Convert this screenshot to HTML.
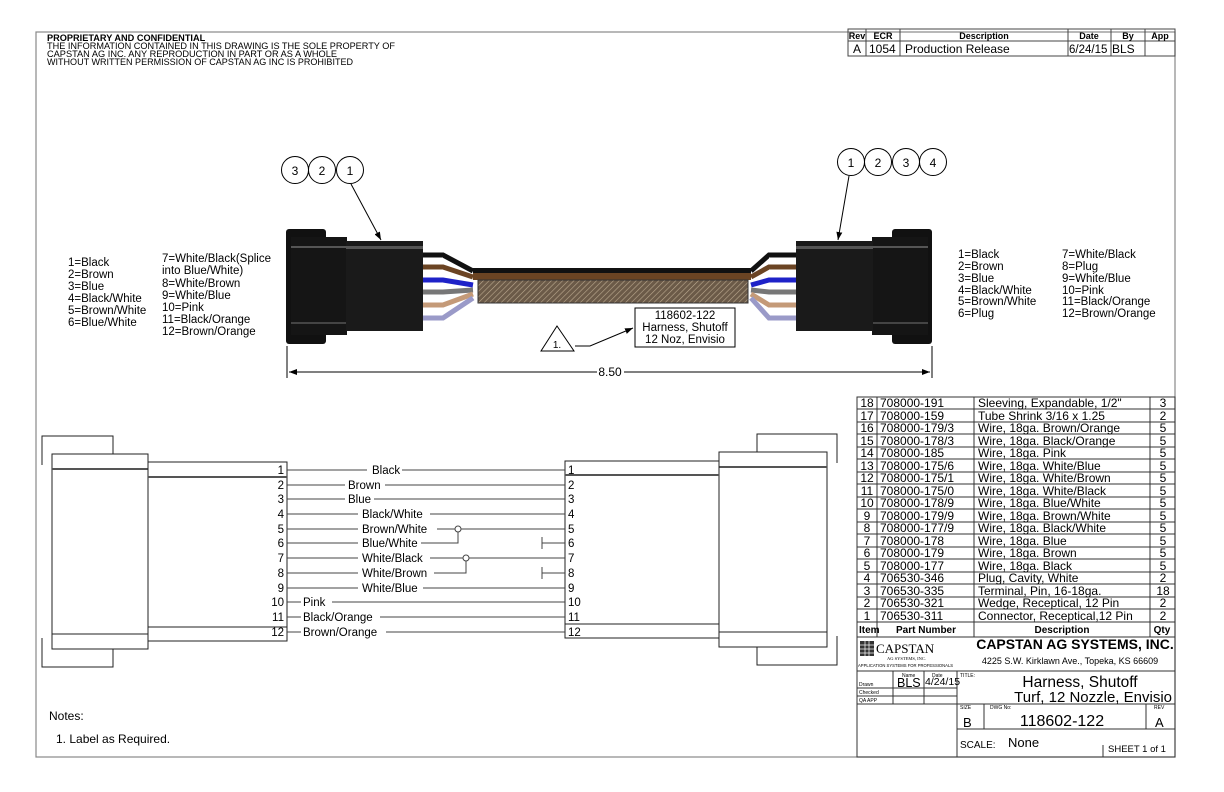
<!DOCTYPE html>
<html><head><meta charset="utf-8"><style>
html,body{margin:0;padding:0;background:#fff;}
svg{display:block;font-family:"Liberation Sans",sans-serif;}
</style></head><body>
<svg width="1224" height="792" viewBox="0 0 1224 792" xmlns="http://www.w3.org/2000/svg">
<defs>
<pattern id="hatch" width="4" height="4" patternUnits="userSpaceOnUse" patternTransform="rotate(45)">
<rect width="4" height="4" fill="#6b5a48"/><line x1="0" y1="0" x2="0" y2="4" stroke="#bba98f" stroke-width="1.2"/>
</pattern>
<marker id="ar" markerWidth="8" markerHeight="6" refX="8" refY="3" orient="auto"><path d="M0,0 L8,3 L0,6 z" fill="#000"/></marker>
</defs>
<rect x="36" y="32" width="1139" height="725" fill="none" stroke="#888" stroke-width="1.2"/>

<g font-size="9.2" fill="#000">
<text x="47" y="41" font-weight="bold">PROPRIETARY AND CONFIDENTIAL</text>
<text x="47" y="49" textLength="348" lengthAdjust="spacingAndGlyphs">THE INFORMATION CONTAINED IN THIS DRAWING IS THE SOLE PROPERTY OF</text>
<text x="47" y="57" textLength="290" lengthAdjust="spacingAndGlyphs">CAPSTAN AG INC. ANY REPRODUCTION IN PART OR AS A WHOLE</text>
<text x="47" y="65" textLength="306" lengthAdjust="spacingAndGlyphs">WITHOUT WRITTEN PERMISSION OF CAPSTAN AG INC IS PROHIBITED</text>
</g>

<g stroke="#444" stroke-width="1" fill="none">
<rect x="848" y="29" width="327" height="27"/>
<line x1="848" y1="41" x2="1175" y2="41"/>
<line x1="866" y1="29" x2="866" y2="56"/><line x1="900" y1="29" x2="900" y2="56"/>
<line x1="1068" y1="29" x2="1068" y2="56"/><line x1="1111" y1="29" x2="1111" y2="56"/>
<line x1="1145" y1="29" x2="1145" y2="56"/>
</g>
<g font-size="9" font-weight="bold" text-anchor="middle">
<text x="857" y="39">Rev</text><text x="883" y="39">ECR</text><text x="984" y="39">Description</text>
<text x="1089" y="39">Date</text><text x="1128" y="39">By</text><text x="1160" y="39">App</text>
</g>
<g font-size="12">
<text x="853" y="53">A</text><text x="869" y="53">1054</text><text x="905" y="53">Production Release</text>
<text x="1069" y="53" font-size="11.5">6/24/15</text><text x="1112" y="53">BLS</text>
</g>

<g font-size="11.5">
<text x="68" y="266">1=Black</text><text x="68" y="278">2=Brown</text><text x="68" y="290">3=Blue</text>
<text x="68" y="302">4=Black/White</text><text x="68" y="314">5=Brown/White</text><text x="68" y="326">6=Blue/White</text>
<text x="162" y="262">7=White/Black(Splice</text><text x="162" y="274">into Blue/White)</text>
<text x="162" y="287">8=White/Brown</text><text x="162" y="299">9=White/Blue</text><text x="162" y="311">10=Pink</text>
<text x="162" y="323">11=Black/Orange</text><text x="162" y="335">12=Brown/Orange</text>
</g>
<g font-size="11.5">
<text x="958" y="258">1=Black</text><text x="958" y="270">2=Brown</text><text x="958" y="282">3=Blue</text>
<text x="958" y="294">4=Black/White</text><text x="958" y="305">5=Brown/White</text><text x="958" y="317">6=Plug</text>
<text x="1062" y="258">7=White/Black</text><text x="1062" y="270">8=Plug</text><text x="1062" y="282">9=White/Blue</text>
<text x="1062" y="294">10=Pink</text><text x="1062" y="305">11=Black/Orange</text><text x="1062" y="317">12=Brown/Orange</text>
</g>

<g>
<rect x="286" y="229" width="40" height="115" rx="3" fill="#111"/>
<rect x="291" y="237" width="56" height="98" fill="#151515"/>
<rect x="291" y="246" width="56" height="2" fill="#555"/>
<rect x="291" y="322" width="56" height="2" fill="#444"/>
<rect x="346" y="241" width="77" height="90" fill="#1a1a1a"/>
<rect x="346" y="246" width="77" height="3" fill="#555"/>
<rect x="892" y="229" width="40" height="115" rx="3" fill="#111"/>
<rect x="872" y="237" width="56" height="98" fill="#151515"/>
<rect x="872" y="246" width="56" height="2" fill="#555"/>
<rect x="872" y="322" width="56" height="2" fill="#444"/>
<rect x="796" y="241" width="77" height="90" fill="#1a1a1a"/>
<rect x="796" y="246" width="77" height="3" fill="#555"/>
<g stroke-width="5" fill="none" stroke-linecap="butt">
<path d="M423,255 H443 L473,271" stroke="#111"/>
<path d="M423,267 H443 L473,277" stroke="#6b4423"/>
<path d="M423,280 H443 L473,285" stroke="#1e22c8"/>
<path d="M423,292 H443 L473,290" stroke="#777"/>
<path d="M423,305 H443 L473,294" stroke="#c49a78"/>
<path d="M423,318 H443 L473,298" stroke="#9a9ac8"/>
<path d="M796,255 H769 L751,271" stroke="#111"/>
<path d="M796,267 H769 L751,277" stroke="#6b4423"/>
<path d="M796,280 H769 L751,285" stroke="#1e22c8"/>
<path d="M796,292 H769 L751,290" stroke="#777"/>
<path d="M796,305 H769 L751,294" stroke="#c49a78"/>
<path d="M796,318 H769 L751,298" stroke="#9a9ac8"/>
</g>
<g stroke="#fff" stroke-width="1">
<line x1="423" y1="258" x2="443" y2="258"/><line x1="423" y1="270" x2="443" y2="270"/><line x1="423" y1="283" x2="443" y2="283"/>
<line x1="423" y1="295" x2="443" y2="295"/><line x1="423" y1="308" x2="443" y2="308"/>
<line x1="769" y1="258" x2="796" y2="258"/><line x1="769" y1="270" x2="796" y2="270"/><line x1="769" y1="283" x2="796" y2="283"/>
<line x1="769" y1="295" x2="796" y2="295"/><line x1="769" y1="308" x2="796" y2="308"/>
</g>
<rect x="473" y="268" width="278" height="5" fill="#111"/>
<rect x="473" y="273" width="278" height="7" fill="#6b4423"/>
<rect x="478" y="280" width="270" height="23" fill="url(#hatch)" stroke="#333"/>
</g>

<g fill="#fff" stroke="#000" stroke-width="1">
<circle cx="295" cy="170" r="13.5"/><circle cx="322" cy="170" r="13.5"/><circle cx="350" cy="170" r="13.5"/>
<circle cx="851" cy="162" r="13.5"/><circle cx="878" cy="162" r="13.5"/><circle cx="906" cy="162" r="13.5"/><circle cx="933" cy="162" r="13.5"/>
</g>
<g font-size="12" text-anchor="middle">
<text x="295" y="175">3</text><text x="322" y="175">2</text><text x="350" y="175">1</text>
<text x="851" y="167">1</text><text x="878" y="167">2</text><text x="906" y="167">3</text><text x="933" y="167">4</text>
</g>
<g stroke="#000" stroke-width="1" fill="none">
<line x1="351" y1="184" x2="381" y2="240" marker-end="url(#ar)"/>
<line x1="849" y1="176" x2="838" y2="240" marker-end="url(#ar)"/>
</g>

<rect x="635" y="308" width="100" height="39" fill="#fff" stroke="#000"/>
<g font-size="11.5" text-anchor="middle">
<text x="685" y="319">118602-122</text><text x="685" y="331">Harness, Shutoff</text><text x="685" y="343">12 Noz, Envisio</text>
</g>
<path d="M557,326 L541,351 L574,351 Z" fill="#fff" stroke="#000"/>
<text x="557" y="348" font-size="10" text-anchor="middle">1.</text>
<path d="M575,346 L590,346 L633,328" fill="none" stroke="#000" marker-end="url(#ar)"/>

<g stroke="#000" stroke-width="1" fill="none">
<line x1="287" y1="346" x2="287" y2="378"/><line x1="932" y1="346" x2="932" y2="378"/>
<line x1="289" y1="372" x2="597" y2="372"/>
<line x1="624" y1="372" x2="930" y2="372"/>
</g>
<path d="M289,372 l8,-3 v6 z M930,372 l-8,-3 v6 z" fill="#000"/>
<text x="610" y="376" font-size="12" text-anchor="middle">8.50</text>

<g stroke="#222" stroke-width="1" fill="none">
<path d="M42,465 V436 H113 V454"/>
<path d="M42,638 V667 H113 V649"/>
<rect x="52" y="454" width="96" height="195" fill="#fff"/>
<line x1="52" y1="469" x2="148" y2="469" stroke="#555" stroke-width="2"/>
<line x1="52" y1="634" x2="148" y2="634"/>
<rect x="148" y="462" width="139" height="179" fill="#fff"/>
<line x1="148" y1="477" x2="287" y2="477" stroke="#555" stroke-width="2"/>
<line x1="148" y1="627" x2="287" y2="627"/>
<path d="M837,463 V434 H757 V452"/>
<path d="M837,636 V665 H757 V647"/>
<rect x="719" y="452" width="108" height="195" fill="#fff"/>
<line x1="719" y1="467" x2="827" y2="467" stroke="#555" stroke-width="2"/>
<line x1="719" y1="632" x2="827" y2="632"/>
<rect x="565" y="461" width="154" height="177" fill="#fff"/>
<line x1="565" y1="475" x2="719" y2="475" stroke="#555" stroke-width="2"/>
<line x1="565" y1="624" x2="719" y2="624"/>
</g>
<g font-size="11.5">
<g text-anchor="end">
<text x="284" y="474">1</text><text x="284" y="489">2</text><text x="284" y="503">3</text><text x="284" y="518">4</text>
<text x="284" y="533">5</text><text x="284" y="547">6</text><text x="284" y="562">7</text><text x="284" y="577">8</text>
<text x="284" y="592">9</text><text x="284" y="606">10</text><text x="284" y="621">11</text><text x="284" y="636">12</text>
</g>
<text x="568" y="474">1</text><text x="568" y="489">2</text><text x="568" y="503">3</text><text x="568" y="518">4</text>
<text x="568" y="533">5</text><text x="568" y="547">6</text><text x="568" y="562">7</text><text x="568" y="577">8</text>
<text x="568" y="592">9</text><text x="568" y="606">10</text><text x="568" y="621">11</text><text x="568" y="636">12</text>
<text x="372" y="474">Black</text>
<text x="348" y="489">Brown</text>
<text x="348" y="503">Blue</text>
<text x="362" y="518">Black/White</text>
<text x="362" y="533">Brown/White</text>
<text x="362" y="547">Blue/White</text>
<text x="362" y="562">White/Black</text>
<text x="362" y="577">White/Brown</text>
<text x="362" y="592">White/Blue</text>
<text x="303" y="606">Pink</text>
<text x="303" y="621">Black/Orange</text>
<text x="303" y="636">Brown/Orange</text>
</g>
<g stroke="#444" stroke-width="1" fill="none">
<path d="M287,470 H367 M402,470 H565"/>
<path d="M287,485 H345 M385,485 H565"/>
<path d="M287,499 H345 M374,499 H565"/>
<path d="M287,514 H358 M430,514 H565"/>
<path d="M287,529 H358 M437,529 H455 M461,529 H565"/>
<path d="M287,543 H358 M421,543 H458 V532"/>
<path d="M287,558 H358 M430,558 H463 M469,558 H565"/>
<path d="M287,573 H358 M434,573 H466 V561"/>
<path d="M287,588 H358 M423,588 H565"/>
<path d="M287,602 H301 M332,602 H565"/>
<path d="M287,617 H301 M380,617 H565"/>
<path d="M287,632 H301 M386,632 H565"/>
<path d="M542,543 H565 M542,537 V549 M542,573 H565 M542,567 V579"/>
<circle cx="458" cy="529" r="3"/><circle cx="466" cy="558" r="3"/>
</g>

<g stroke="#333" stroke-width="1" fill="none">
<rect x="857" y="397" width="318" height="360"/>
<line x1="877" y1="397" x2="877" y2="637"/>
<line x1="974" y1="397" x2="974" y2="637"/>
<line x1="1150" y1="397" x2="1150" y2="637"/>
<line x1="857" y1="622" x2="1175" y2="622"/>
<line x1="857" y1="637" x2="1175" y2="637"/>
<line x1="857" y1="671" x2="1175" y2="671"/>
<line x1="857" y1="688" x2="957" y2="688"/>
<line x1="857" y1="696" x2="957" y2="696"/>
<line x1="857" y1="704" x2="1175" y2="704"/>
<line x1="957" y1="729" x2="1175" y2="729"/>
<line x1="893" y1="671" x2="893" y2="704"/>
<line x1="924" y1="671" x2="924" y2="704"/>
<line x1="957" y1="671" x2="957" y2="757"/>
<line x1="984" y1="704" x2="984" y2="729"/>
<line x1="1146" y1="704" x2="1146" y2="729"/>
<line x1="1103" y1="745" x2="1103" y2="757"/>
</g>
<g stroke="#333" stroke-width="1">
<line x1="857" y1="409" x2="1175" y2="409"/><line x1="857" y1="422" x2="1175" y2="422"/>
<line x1="857" y1="434" x2="1175" y2="434"/><line x1="857" y1="447" x2="1175" y2="447"/>
<line x1="857" y1="459" x2="1175" y2="459"/><line x1="857" y1="472" x2="1175" y2="472"/>
<line x1="857" y1="484" x2="1175" y2="484"/><line x1="857" y1="497" x2="1175" y2="497"/>
<line x1="857" y1="509" x2="1175" y2="509"/><line x1="857" y1="522" x2="1175" y2="522"/>
<line x1="857" y1="534" x2="1175" y2="534"/><line x1="857" y1="547" x2="1175" y2="547"/>
<line x1="857" y1="559" x2="1175" y2="559"/><line x1="857" y1="572" x2="1175" y2="572"/>
<line x1="857" y1="584" x2="1175" y2="584"/><line x1="857" y1="597" x2="1175" y2="597"/>
<line x1="857" y1="609" x2="1175" y2="609"/>
</g>
<g font-size="12">
<g text-anchor="middle">
<text x="867" y="407">18</text><text x="867" y="420">17</text><text x="867" y="432">16</text><text x="867" y="445">15</text>
<text x="867" y="457">14</text><text x="867" y="470">13</text><text x="867" y="482">12</text><text x="867" y="495">11</text>
<text x="867" y="507">10</text><text x="867" y="520">9</text><text x="867" y="532">8</text><text x="867" y="545">7</text>
<text x="867" y="557">6</text><text x="867" y="570">5</text><text x="867" y="582">4</text><text x="867" y="595">3</text>
<text x="867" y="607">2</text><text x="867" y="620">1</text>
<text x="1163" y="407">3</text><text x="1163" y="420">2</text><text x="1163" y="432">5</text><text x="1163" y="445">5</text>
<text x="1163" y="457">5</text><text x="1163" y="470">5</text><text x="1163" y="482">5</text><text x="1163" y="495">5</text>
<text x="1163" y="507">5</text><text x="1163" y="520">5</text><text x="1163" y="532">5</text><text x="1163" y="545">5</text>
<text x="1163" y="557">5</text><text x="1163" y="570">5</text><text x="1163" y="582">2</text><text x="1163" y="595">18</text>
<text x="1163" y="607">2</text><text x="1163" y="620">2</text>
</g>
<text x="880" y="407">708000-191</text><text x="880" y="420">708000-159</text><text x="880" y="432">708000-179/3</text>
<text x="880" y="445">708000-178/3</text><text x="880" y="457">708000-185</text><text x="880" y="470">708000-175/6</text>
<text x="880" y="482">708000-175/1</text><text x="880" y="495">708000-175/0</text><text x="880" y="507">708000-178/9</text>
<text x="880" y="520">708000-179/9</text><text x="880" y="532">708000-177/9</text><text x="880" y="545">708000-178</text>
<text x="880" y="557">708000-179</text><text x="880" y="570">708000-177</text><text x="880" y="582">706530-346</text>
<text x="880" y="595">706530-335</text><text x="880" y="607">706530-321</text><text x="880" y="620">706530-311</text>
<text x="978" y="407">Sleeving, Expandable, 1/2"</text><text x="978" y="420">Tube Shrink 3/16 x 1.25</text>
<text x="978" y="432">Wire, 18ga. Brown/Orange</text><text x="978" y="445">Wire, 18ga. Black/Orange</text>
<text x="978" y="457">Wire, 18ga. Pink</text><text x="978" y="470">Wire, 18ga. White/Blue</text>
<text x="978" y="482">Wire, 18ga. White/Brown</text><text x="978" y="495">Wire, 18ga. White/Black</text>
<text x="978" y="507">Wire, 18ga. Blue/White</text><text x="978" y="520">Wire, 18ga. Brown/White</text>
<text x="978" y="532">Wire, 18ga. Black/White</text><text x="978" y="545">Wire, 18ga. Blue</text>
<text x="978" y="557">Wire, 18ga. Brown</text><text x="978" y="570">Wire, 18ga. Black</text>
<text x="978" y="582">Plug, Cavity, White</text><text x="978" y="595">Terminal, Pin, 16-18ga.</text>
<text x="978" y="607">Wedge, Receptical, 12 Pin</text><text x="978" y="620">Connector, Receptical,12 Pin</text>
</g>
<g font-size="10" font-weight="bold">
<text x="859" y="633">Item</text><text x="926" y="633" text-anchor="middle">Part Number</text>
<text x="1062" y="633" text-anchor="middle">Description</text><text x="1162" y="633" text-anchor="middle">Qty</text>
</g>
<rect x="860" y="641" width="14" height="15" fill="#333"/>
<g stroke="#fff" stroke-width="0.7"><line x1="860" y1="645" x2="874" y2="645"/><line x1="860" y1="649" x2="874" y2="649"/><line x1="860" y1="653" x2="874" y2="653"/><line x1="865" y1="641" x2="865" y2="656"/><line x1="869" y1="641" x2="869" y2="656"/></g>
<text x="876" y="653" font-family="Liberation Serif,serif" font-size="13">CAPSTAN</text>
<text x="887" y="660" font-family="Liberation Serif,serif" font-size="4.5">AG SYSTEMS, INC.</text>
<text x="858" y="667" font-size="4.2">APPLICATION SYSTEMS FOR PROFESSIONALS</text>
<text x="1075" y="649" font-size="14" font-weight="bold" text-anchor="middle">CAPSTAN AG SYSTEMS, INC.</text>
<text x="1070" y="664" font-size="9" text-anchor="middle">4225 S.W. Kirklawn Ave., Topeka, KS 66609</text>
<g font-size="5">
<text x="902" y="677">Name</text><text x="932" y="677">Date</text><text x="960" y="677">TITLE:</text>
<text x="859" y="686">Drawn</text><text x="859" y="694">Checked</text><text x="859" y="702">QA APP</text>
<text x="960" y="709">SIZE</text><text x="990" y="709">DWG No:</text><text x="1154" y="709">REV</text>
</g>
<text x="897" y="687" font-size="12.5">BLS</text><text x="925" y="685" font-size="10.5">4/24/15</text>
<text x="1080" y="687" font-size="15.5" text-anchor="middle">Harness, Shutoff</text>
<text x="1172" y="702" font-size="15" text-anchor="end">Turf, 12 Nozzle, Envisio</text>
<text x="963" y="727" font-size="13">B</text>
<text x="1062" y="726" font-size="16" text-anchor="middle">118602-122</text>
<text x="1155" y="727" font-size="13">A</text>
<text x="960" y="748" font-size="10">SCALE:</text>
<text x="1008" y="747" font-size="13">None</text>
<text x="1108" y="752" font-size="9.5">SHEET 1 of 1</text>

<text x="49" y="720" font-size="12">Notes:</text>
<text x="56" y="743" font-size="12">1.  Label as Required.</text>
</svg>
</body></html>
